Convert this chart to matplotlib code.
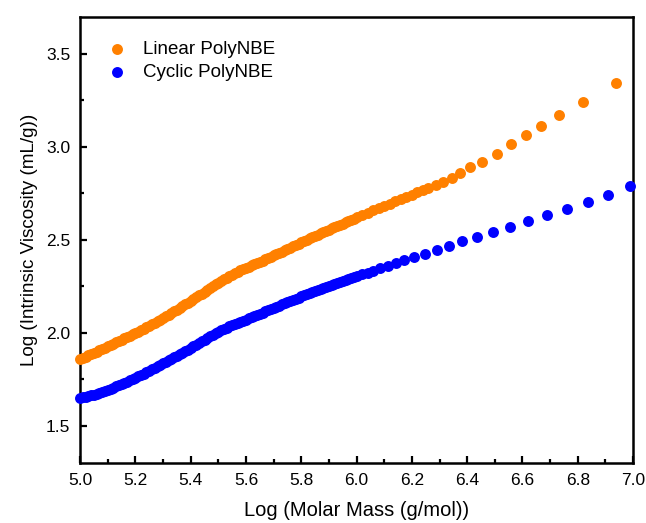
import matplotlib
matplotlib.use("Agg")
import matplotlib.pyplot as plt
from matplotlib.ticker import MultipleLocator

plt.rcParams['font.family'] = ['Liberation Sans', 'DejaVu Sans']

# Linear PolyNBE: log M vs log [eta]
linear_x = [5.00, 5.01, 5.02, 5.03, 5.04, 5.05, 5.06, 5.07, 5.08, 5.09,
            5.10, 5.11, 5.12, 5.13, 5.14, 5.15, 5.16, 5.17, 5.18, 5.19,
            5.20, 5.21, 5.22, 5.23, 5.24, 5.25, 5.26, 5.27, 5.28, 5.29,
            5.30, 5.31, 5.32, 5.33, 5.34, 5.35, 5.36, 5.37, 5.38, 5.39,
            5.40, 5.41, 5.42, 5.43, 5.44, 5.45, 5.46, 5.47, 5.48, 5.49,
            5.50, 5.51, 5.52, 5.53, 5.54, 5.55, 5.56, 5.57, 5.58, 5.59,
            5.60, 5.61, 5.62, 5.63, 5.64, 5.65, 5.66, 5.67, 5.68, 5.69,
            5.70, 5.71, 5.72, 5.73, 5.74, 5.75, 5.76, 5.77, 5.78, 5.79,
            5.80, 5.81, 5.82, 5.83, 5.84, 5.85, 5.86, 5.87, 5.88, 5.89,
            5.90, 5.91, 5.92, 5.93, 5.94, 5.95, 5.96, 5.97, 5.98, 5.99,
            6.00, 6.02, 6.04, 6.06, 6.08, 6.10, 6.12, 6.14, 6.16, 6.18,
            6.20, 6.22, 6.24, 6.260, 6.287, 6.314, 6.344, 6.375, 6.411, 6.455,
            6.507, 6.560, 6.612, 6.667, 6.732, 6.818, 6.939]
linear_y = [1.857, 1.864, 1.871, 1.878, 1.885, 1.892, 1.899, 1.906, 1.913, 1.920,
            1.927, 1.934, 1.941, 1.948, 1.955, 1.962, 1.969, 1.976, 1.984, 1.991,
            1.999, 2.006, 2.014, 2.022, 2.030, 2.038, 2.046, 2.054, 2.063, 2.071,
            2.080, 2.089, 2.098, 2.107, 2.116, 2.125, 2.134, 2.143, 2.153, 2.162,
            2.172, 2.181, 2.191, 2.201, 2.211, 2.221, 2.231, 2.241, 2.251, 2.261,
            2.270, 2.279, 2.288, 2.297, 2.305, 2.313, 2.321, 2.329, 2.336, 2.343,
            2.349, 2.356, 2.362, 2.369, 2.375, 2.382, 2.388, 2.395, 2.402, 2.409,
            2.416, 2.423, 2.430, 2.437, 2.444, 2.451, 2.458, 2.465, 2.472, 2.479,
            2.486, 2.493, 2.500, 2.507, 2.514, 2.521, 2.528, 2.535, 2.541, 2.548,
            2.554, 2.561, 2.567, 2.574, 2.580, 2.587, 2.594, 2.600, 2.607, 2.613,
            2.620, 2.633, 2.646, 2.659, 2.671, 2.683, 2.695, 2.707, 2.719, 2.731,
            2.743, 2.755, 2.766, 2.777, 2.793, 2.811, 2.834, 2.859, 2.889, 2.920,
            2.963, 3.014, 3.064, 3.113, 3.170, 3.241, 3.346]

# Cyclic PolyNBE
cyclic_x = [5.00, 5.01, 5.02, 5.03, 5.04, 5.05, 5.06, 5.07, 5.08, 5.09,
            5.10, 5.11, 5.12, 5.13, 5.14, 5.15, 5.16, 5.17, 5.18, 5.19,
            5.20, 5.21, 5.22, 5.23, 5.24, 5.25, 5.26, 5.27, 5.28, 5.29,
            5.30, 5.31, 5.32, 5.33, 5.34, 5.35, 5.36, 5.37, 5.38, 5.39,
            5.40, 5.41, 5.42, 5.43, 5.44, 5.45, 5.46, 5.47, 5.48, 5.49,
            5.50, 5.51, 5.52, 5.53, 5.54, 5.55, 5.56, 5.57, 5.58, 5.59,
            5.60, 5.61, 5.62, 5.63, 5.64, 5.65, 5.66, 5.67, 5.68, 5.69,
            5.70, 5.71, 5.72, 5.73, 5.74, 5.75, 5.76, 5.77, 5.78, 5.79,
            5.80, 5.81, 5.82, 5.83, 5.84, 5.85, 5.86, 5.87, 5.88, 5.89,
            5.90, 5.91, 5.92, 5.93, 5.94, 5.95, 5.96, 5.97, 5.98, 5.99,
            6.00, 6.02, 6.04, 6.06, 6.085, 6.113, 6.143, 6.173, 6.208, 6.247,
            6.290, 6.335, 6.383, 6.436, 6.494, 6.554, 6.619, 6.689, 6.761, 6.836,
            6.911, 6.989]
cyclic_y = [1.651, 1.653, 1.656, 1.659, 1.663, 1.667, 1.671, 1.676, 1.681, 1.687,
            1.693, 1.699, 1.705, 1.711, 1.717, 1.723, 1.730, 1.737, 1.744, 1.751,
            1.758, 1.765, 1.773, 1.780, 1.788, 1.795, 1.803, 1.811, 1.819, 1.827,
            1.835, 1.843, 1.851, 1.859, 1.867, 1.875, 1.884, 1.892, 1.901, 1.909,
            1.918, 1.927, 1.936, 1.945, 1.954, 1.963, 1.972, 1.981, 1.990, 1.998,
            2.006, 2.013, 2.020, 2.027, 2.034, 2.041, 2.047, 2.053, 2.059, 2.065,
            2.070, 2.077, 2.083, 2.090, 2.096, 2.102, 2.108, 2.115, 2.121, 2.127,
            2.133, 2.140, 2.146, 2.152, 2.158, 2.165, 2.171, 2.177, 2.183, 2.189,
            2.195, 2.201, 2.206, 2.212, 2.217, 2.223, 2.228, 2.234, 2.239, 2.245,
            2.250, 2.256, 2.261, 2.267, 2.272, 2.278, 2.283, 2.289, 2.294, 2.300,
            2.305, 2.314, 2.323, 2.333, 2.346, 2.360, 2.374, 2.390, 2.407, 2.422,
            2.444, 2.467, 2.492, 2.513, 2.542, 2.567, 2.599, 2.631, 2.667, 2.703,
            2.742, 2.787]

fig = plt.figure(figsize=(6.46, 5.23), dpi=100)
ax = fig.add_axes([0.124, 0.115, 0.856, 0.853])

ax.scatter(linear_x, linear_y, s=62, color="#ff8000", linewidths=0,
           label="Linear PolyNBE", clip_on=False, zorder=3)
ax.scatter(cyclic_x, cyclic_y, s=62, color="#0000ff", linewidths=0,
           label="Cyclic PolyNBE", clip_on=False, zorder=3)

ax.set_xlim(5.0, 7.0)
ax.set_ylim(1.3, 3.7)
ax.xaxis.set_major_locator(MultipleLocator(0.2))
ax.xaxis.set_minor_locator(MultipleLocator(0.1))
ax.yaxis.set_major_locator(MultipleLocator(0.5))
ax.yaxis.set_minor_locator(MultipleLocator(0.25))
ax.xaxis.set_major_formatter(plt.FormatStrFormatter("%.1f"))
ax.yaxis.set_major_formatter(plt.FormatStrFormatter("%.1f"))

ax.tick_params(which="both", direction="in", top=False, right=False,
               width=1.6, labelsize=12.5, colors="black")
ax.tick_params(which="major", length=5, pad=7)
ax.tick_params(which="minor", length=3)
for sp in ax.spines.values():
    sp.set_linewidth(1.8)

ax.set_xlabel("Log (Molar Mass (g/mol))", fontsize=14.5, labelpad=10)
ax.set_ylabel("Log (Intrinsic Viscosity (mL/g))", fontsize=13.6, labelpad=6)

ax.legend(loc="upper left", bbox_to_anchor=(0.019, 0.962), frameon=False,
          fontsize=13.5, handletextpad=0.4, labelspacing=0.3, scatterpoints=1,
          borderaxespad=0)

plt.savefig("out.png", dpi=100)
